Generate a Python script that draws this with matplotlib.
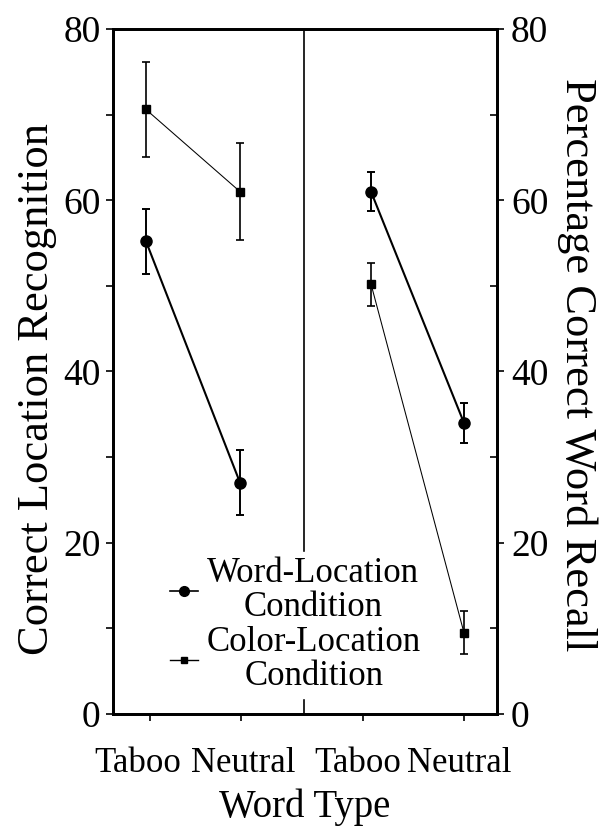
import matplotlib.pyplot as plt
import numpy as np
from matplotlib.ticker import MultipleLocator

plt.rcParams['font.family'] = ['Liberation Serif', 'DejaVu Serif']

# data
word_types = ['Taboo', 'Neutral', 'Taboo', 'Neutral']
series_names = ['Word-Location\nCondition', 'Color-Location\nCondition']

# left panel: location recognition
word_loc_recog = [55.2, 27.0]
word_loc_recog_err = [3.8, 3.8]
color_loc_recog = [70.6, 61.0]
color_loc_recog_err = [5.5, 5.7]

# right panel: word recall
word_loc_recall = [61.0, 34.0]
word_loc_recall_err = [2.3, 2.3]
color_loc_recall = [50.2, 9.5]
color_loc_recall_err = [2.5, 2.5]

# horizontal layout (axis units 0..10)
tick_pos = [0.96, 3.33, 6.51, 9.14]
label_pos = [0.65, 3.38, 6.38, 9.02]
left_x = [0.86, 3.31]
right_x = [6.72, 9.14]
divider_x = 4.97

fig = plt.figure(figsize=(5.99, 8.31), dpi=100)
ax = fig.add_axes([0.1886, 0.1408, 0.6411, 0.8243])
ax.set_xlim(0, 10)
ax.set_ylim(0, 80)

for xs, w, we, c, ce in [(left_x, word_loc_recog, word_loc_recog_err, color_loc_recog, color_loc_recog_err),
                         (right_x, word_loc_recall, word_loc_recall_err, color_loc_recall, color_loc_recall_err)]:
    ax.errorbar(xs, c, yerr=ce, color='black', lw=0.75, marker='s', ms=5.5,
                elinewidth=1.2, capsize=3, capthick=1.2, zorder=3)
    ax.errorbar(xs, w, yerr=we, color='black', lw=1.5, marker='o', ms=8,
                elinewidth=1.4, capsize=3, capthick=1.4, zorder=3)

ax.axvline(divider_x, color='black', lw=1.2, zorder=1)

for s in ax.spines.values():
    s.set_linewidth(2)

# tick marks (major) and category labels (minor, no mark)
ax.xaxis.remove_overlapping_locs = False
ax.set_xticks(tick_pos)
ax.set_xticklabels([''] * 4)
ax.set_xticks(label_pos, minor=True)
ax.set_xticklabels(word_types, minor=True, fontsize=25)
ax.tick_params(axis='x', which='major', direction='out', length=5, width=1.2)
ax.tick_params(axis='x', which='minor', length=0, pad=24)
ax.set_yticks([0, 20, 40, 60, 80])
ax.yaxis.set_minor_locator(MultipleLocator(10))
ax.tick_params(axis='y', which='both', direction='out', length=5, width=1.2, labelsize=27, pad=4)
ax.set_xlabel('Word Type', fontsize=28, labelpad=6)

fig.text(37 / 599, 1 - 389 / 831, 'Correct Location Recognition', fontsize=32,
         rotation=90, ha='center', va='center')
fig.text(577 / 599, 1 - 365 / 831, 'Percentage Correct Word Recall', fontsize=32,
         rotation=270, ha='center', va='center')

ax2 = ax.twinx()
ax2.set_ylim(0, 80)
ax2.set_yticks([0, 20, 40, 60, 80])
ax2.yaxis.set_minor_locator(MultipleLocator(10))
ax2.tick_params(axis='y', which='major', direction='out', length=5, width=1.2, labelsize=27, pad=5)
ax2.tick_params(axis='y', which='minor', direction='in', length=5, width=1.2)
for s in ax2.spines.values():
    s.set_linewidth(2)

h1 = plt.Line2D([], [], color='black', lw=1.2, marker='o', ms=7)
h2 = plt.Line2D([], [], color='black', lw=1.0, marker='s', ms=4.5)
leg = ax.legend([h1, h2], series_names, loc='center', bbox_to_anchor=(0.476, 0.13),
                frameon=True, fontsize=25, handlelength=0.8, handletextpad=0.25,
                borderpad=0.15, labelspacing=0.05, borderaxespad=0)
leg.get_frame().set_edgecolor('white')
leg.get_frame().set_facecolor('white')
leg.get_frame().set_alpha(1)
leg.set_zorder(5)
for t in leg.get_texts():
    t.set_multialignment('center')
    t.set_linespacing(1.05)

fig.savefig('out.png', dpi=100)
